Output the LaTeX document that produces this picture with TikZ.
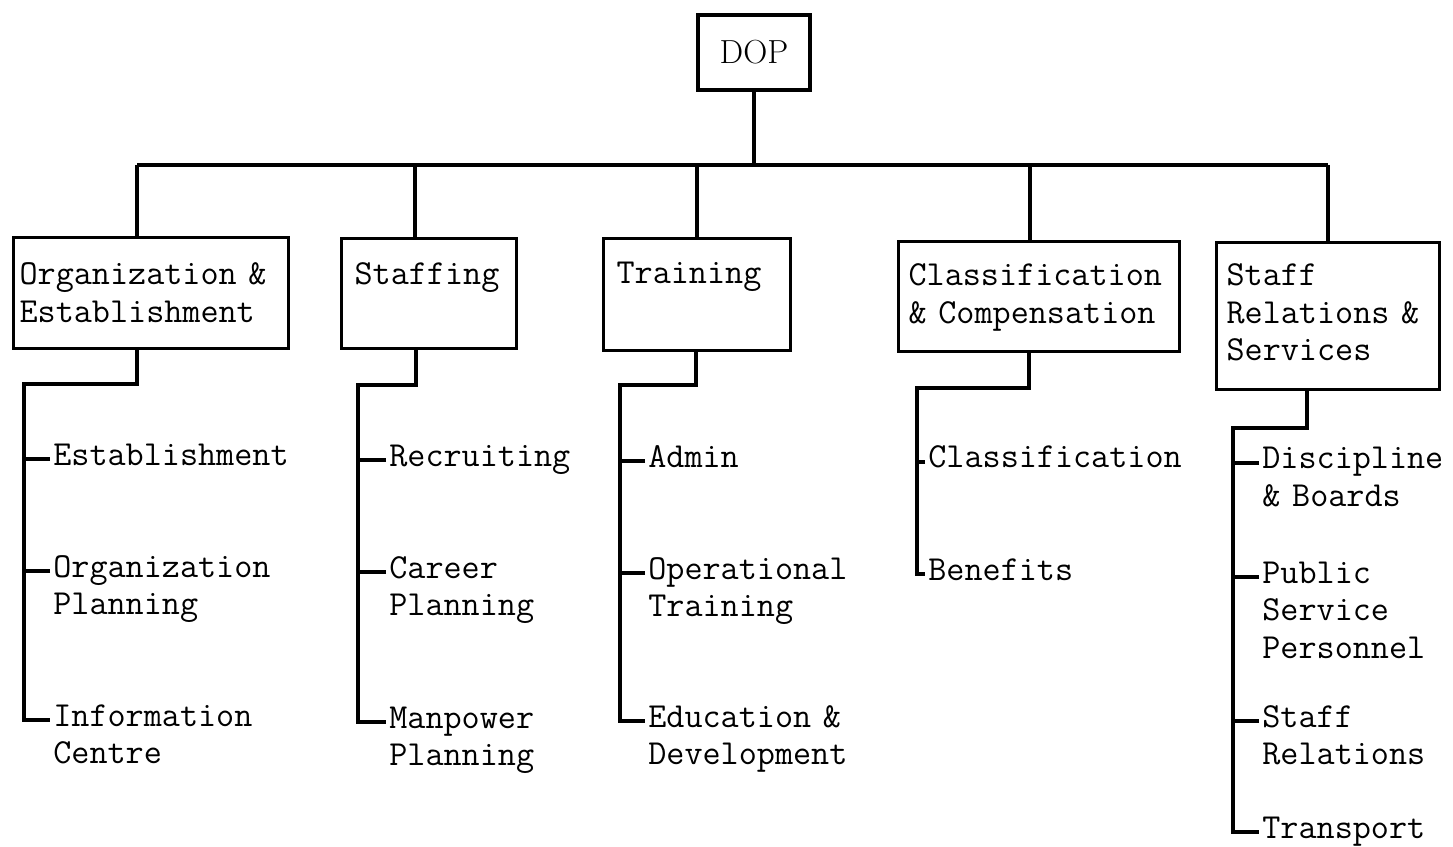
\documentclass[tikz,border=0pt]{standalone}
\usetikzlibrary{calc}

\begin{document}
\begin{tikzpicture}[x=0.02cm,y=-0.02cm,
  link/.style={line width=1.8pt},
  unit/.style={draw,line width=1.8pt,anchor=north west,inner ysep=0pt,align=left,
    font=\fontsize{20}{21.4}\selectfont\ttfamily},
  leaf/.style={anchor=base west,inner sep=0pt,align=left,text width=6cm,
    font=\fontsize{20}{21.6}\selectfont\ttfamily}]
  \useasboundingbox (0,0) rectangle (1453,847);

  \node[draw,line width=1.8pt,minimum width=2.24cm,minimum height=1.5cm,inner sep=0pt,
    font=\fontsize{19}{22}\selectfont] (dop) at (754,52.5) {DOP};

  \node[unit,inner xsep=0.12cm,text width=5.26cm,text height=0.94cm,text depth=1.28cm] (org) at (12,236) {Organization~\&\\Establishment};
  \node[unit,inner xsep=0.26cm,text width=2.98cm,text height=0.92cm,text depth=1.28cm] (staff) at (340,237) {Staffing};
  \node[unit,inner xsep=0.26cm,text width=3.22cm,text height=0.9cm,text depth=1.34cm] (train) at (602,237) {Training};
  \node[unit,inner xsep=0.2cm,text width=5.22cm,text height=0.88cm,text depth=1.32cm] (class) at (897,240) {Classification\\\&~Compensation};
  \node[unit,inner xsep=0.2cm,text width=4.06cm,text height=0.86cm,text depth=2.08cm] (srs) at (1215,241) {Staff\\Relations~\&\\Services};

  \node[leaf] (est) at (53,465) {Establishment};
  \node[leaf] (orgplan) at (53,577) {Organization\\Planning};
  \node[leaf] (info) at (53,726) {Information\\Centre};
  \node[leaf] (recr) at (389,466) {Recruiting};
  \node[leaf] (career) at (389,578) {Career\\Planning};
  \node[leaf] (manpow) at (389,728) {Manpower\\Planning};
  \node[leaf] (admin) at (648,467) {Admin};
  \node[leaf] (optrain) at (648,579) {Operational\\Training};
  \node[leaf] (edudev) at (648,727) {Education~\&\\Development};
  \node[leaf] (clsf) at (928,468) {Classification};
  \node[leaf] (benef) at (928,580) {Benefits};
  \node[leaf] (disc) at (1262,469) {Discipline\\\&~Boards};
  \node[leaf] (psp) at (1262,583) {Public\\Service\\Personnel};
  \node[leaf] (strel) at (1262,727) {Staff\\Relations};
  \node[leaf] (transp) at (1262,838) {Transport};

  \coordinate (busl) at (137,165);
  \coordinate (busr) at (1328,165);
  \draw[link] (dop) -- (dop |- busl);
  \draw[link] (busl) -- (busr);
  \foreach \x/\n in {137/org,415/staff,697/train,1030/class,1328/srs}
    \draw[link] (\x,165) -- (\n.north -| \x,0);

  \draw[link] (org.south -| 137,0) -- (137,384) -- (24,384) |- ($(info.base west)+(-3,-6)$);
  \draw[link] (staff.south -| 416,0) -- (416,385) -- (358,385) |- ($(manpow.base west)+(-3,-6)$);
  \draw[link] (train.south -| 696,0) -- (696,385) -- (620,385) |- ($(edudev.base west)+(-3,-6)$);
  \draw[link] (class.south -| 1029,0) -- (1029,388) -- (917,388) |- ($(benef.base west)+(-3,-6)$);
  \draw[link] (srs.south -| 1307,0) -- (1307,428) -- (1233,428) |- ($(transp.base west)+(-3,-6)$);

  \foreach \n/\l in {est/26,orgplan/26,recr/28,career/28,admin/25,optrain/25,clsf/8,disc/26,psp/26,strel/26}
    \draw[link] ($(\n.base west)+(-3,-6)$) -- ++(-\l,0);

\end{tikzpicture}
\end{document}
